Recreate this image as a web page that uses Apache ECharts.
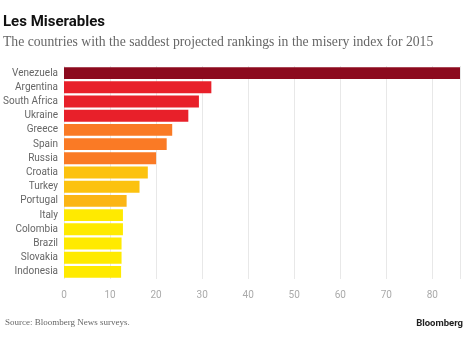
<!DOCTYPE html>
<html><head><meta charset="utf-8">
<script src="https://cdn.jsdelivr.net/npm/echarts@6/dist/echarts.min.js"></script>
<style>html,body{margin:0;padding:0;background:#fff}#c{width:463px;height:348px}</style>
</head><body><div id="c"></div>
<script>
const countries = ["Venezuela","Argentina","South Africa","Ukraine","Greece","Spain","Russia","Croatia","Turkey","Portugal","Italy","Colombia","Brazil","Slovakia","Indonesia"];
const misery = [86.0,32.0,29.3,27.0,23.5,22.3,20.0,18.2,16.4,13.6,12.8,12.8,12.5,12.5,12.4];
const barColors = ["#8C0A1E","#E8202A","#E8202A","#E8202A","#FA7A25","#FA7A25","#FA7A25","#FCC20F","#FCC20F","#FBB515","#FFEA00","#FFEA00","#FFEA00","#FFEA00","#FFEA00"];
const xTicks = [0,10,20,30,40,50,60,70,80];

const chart = echarts.init(document.getElementById('c'), null, {renderer:'canvas'});
chart.setOption({
  animation:false,
  title:[
    {text:"Les Miserables", left:3, top:15, padding:0, textStyle:{fontFamily:"Roboto", fontWeight:"bold", fontSize:15, color:"#111"}},
    {text:"The countries with the saddest projected rankings in the misery index for 2015", left:3, top:35, padding:0, textStyle:{fontFamily:"Liberation Serif", fontWeight:"normal", fontSize:13.7, color:"#666"}},
    {text:"Source: Bloomberg News surveys.", left:5, top:318, padding:0, textStyle:{fontFamily:"Liberation Serif", fontWeight:"normal", fontSize:9, color:"#666"}},
    {text:"Bloomberg", right:0, top:319, padding:0, textStyle:{fontFamily:"Roboto", fontWeight:"bold", fontSize:9.5, color:"#222"}}
  ],
  grid:{left:64, right:0, top:66, bottom:69, containLabel:false},
  xAxis:{type:"value", min:0, max:86, interval:10,
    axisLine:{show:false}, axisTick:{show:false},
    splitLine:{show:true, lineStyle:{color:"#e8e8e8", width:1}},
    axisLabel:{color:"#aaa", fontSize:10, fontFamily:"Roboto", margin:11,
      formatter:function(v){return xTicks.indexOf(v)>=0 ? String(v) : "";}}
  },
  yAxis:{type:"category", data:countries, inverse:true,
    axisLine:{show:false}, axisTick:{show:false},
    axisLabel:{color:"#666", fontSize:10, fontFamily:"Roboto", margin:6}
  },
  series:[{type:"bar", data:misery.map((v,i)=>({value:v, itemStyle:{color:barColors[i]}})),
    barCategoryGap:"16%", silent:true}]
});
</script></body></html>
